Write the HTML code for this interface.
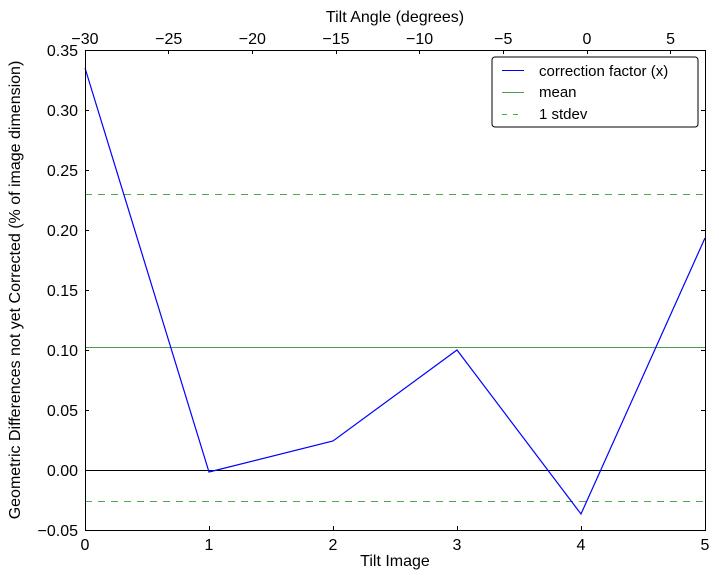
<!DOCTYPE html>
<html><head><style>body{margin:0;background:#fff}svg{display:block}text{font-family:"Liberation Sans",sans-serif;fill:#000}</style></head><body>
<svg width="719" height="579" viewBox="0 0 719 579">
<rect width="719" height="579" fill="#fff"/>
<g shape-rendering="crispEdges">
<line x1="85" y1="470.5" x2="705" y2="470.5" stroke="#000"/>
<line x1="85" y1="194.5" x2="705" y2="194.5" stroke="#4fa84f" stroke-dasharray="7,6"/>
<line x1="85" y1="501.5" x2="705" y2="501.5" stroke="#4fa84f" stroke-dasharray="7,6"/>
<line x1="85" y1="347.5" x2="705" y2="347.5" stroke="#4f9a4f"/>
</g>
<polyline fill="none" stroke="#0000ff" stroke-width="1.2" points="85,68 209,472 333,441 457,350 581,514 705,238"/>
<rect x="85.5" y="50.5" width="620" height="480" fill="none" stroke="#000" shape-rendering="crispEdges"/>
<g stroke="#000" shape-rendering="crispEdges">
<path d="M209.5,530v-4M333.5,530v-4M457.5,530v-4M581.5,530v-4"/>
<path d="M168.5,50v4M252.5,50v4M336.5,50v4M419.5,50v4M503.5,50v4M587.5,50v4M670.5,50v4"/>
<path d="M85,110.5h4M85,170.5h4M85,230.5h4M85,290.5h4M85,350.5h4M85,410.5h4M85,470.5h4"/>
<path d="M705,110.5h-4M705,170.5h-4M705,230.5h-4M705,290.5h-4M705,350.5h-4M705,410.5h-4M705,470.5h-4"/>
</g>
<g font-size="16" text-anchor="end">
<text x="78" y="56">0.35</text><text x="78" y="116">0.30</text><text x="78" y="176">0.25</text><text x="78" y="236">0.20</text><text x="78" y="296">0.15</text><text x="78" y="356">0.10</text><text x="78" y="416">0.05</text><text x="78" y="476">0.00</text><text x="78" y="536">−0.05</text>
</g>
<g font-size="16" text-anchor="middle">
<text x="85" y="550">0</text><text x="209" y="550">1</text><text x="333" y="550">2</text><text x="457" y="550">3</text><text x="581" y="550">4</text><text x="705" y="550">5</text>
<text x="85" y="44">−30</text><text x="168.7" y="44">−25</text><text x="252.3" y="44">−20</text><text x="336" y="44">−15</text><text x="419.6" y="44">−10</text><text x="503.3" y="44">−5</text><text x="587" y="44">0</text><text x="670.6" y="44">5</text>
<text x="395" y="566">Tilt Image</text>
<text x="395" y="22">Tilt Angle (degrees)</text>
<text transform="translate(20,290) rotate(-90)">Geometric Differences not yet Corrected (% of image dimension)</text>
</g>
<rect x="492" y="57" width="206" height="70" rx="3" fill="#fff" stroke="#000"/>
<g shape-rendering="crispEdges">
<line x1="502" y1="70.5" x2="524" y2="70.5" stroke="#0000ff"/>
<line x1="502" y1="92.5" x2="524" y2="92.5" stroke="#4f9a4f"/>
<line x1="502" y1="114.5" x2="524" y2="114.5" stroke="#4fa84f" stroke-dasharray="5,6"/>
</g>
<g font-size="15"><text x="539" y="76">correction factor (x)</text><text x="539" y="97">mean</text><text x="539" y="119">1 stdev</text></g>
</svg>
</body></html>
